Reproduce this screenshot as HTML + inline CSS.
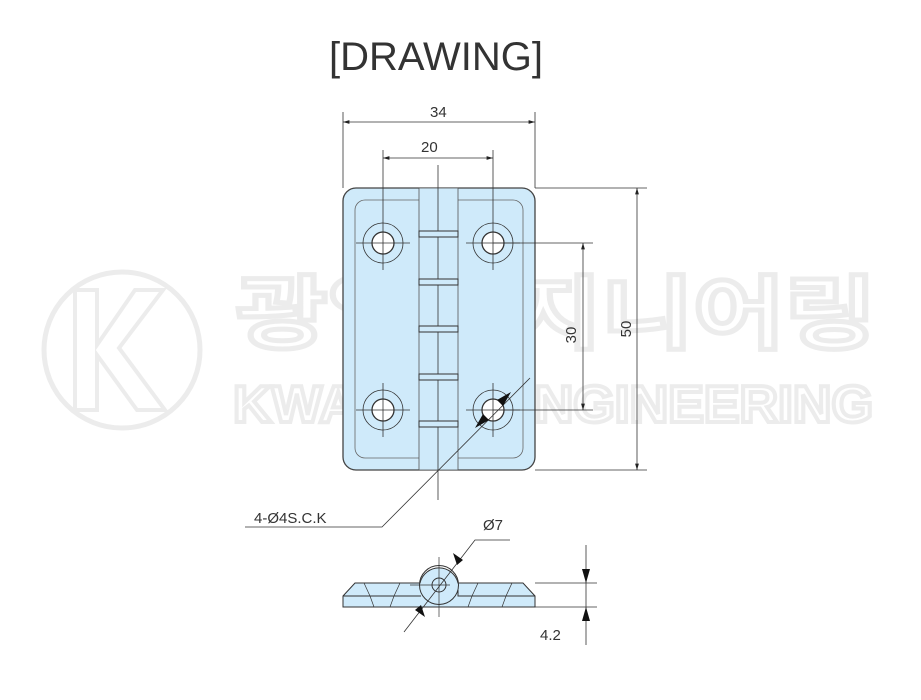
<!DOCTYPE html>
<html><head><meta charset="utf-8"><style>
html,body{margin:0;padding:0;background:#fff}
svg{display:block}
</style></head><body>
<svg width="921" height="700" viewBox="0 0 921 700" xmlns="http://www.w3.org/2000/svg" font-family="Liberation Sans, sans-serif">
<defs>
<marker id="a" viewBox="0 0 10 10" refX="10" refY="5" markerWidth="8" markerHeight="8" orient="auto-start-reverse"><path d="M0,2 L10,5 L0,8 z" fill="#222"/></marker>
</defs>
<text x="436" y="70" font-size="40" text-anchor="middle" fill="#333">[DRAWING]</text>
<g fill="none" stroke="#ececec" stroke-width="5">
<circle cx="122" cy="350" r="78"/>
<path d="M75,290 h22 v55 l38,-55 h28 l-44,58 l46,62 h-28 l-40,-55 v55 h-22 z" stroke-width="4"/>
</g>
<text x="556" y="342" font-size="80" text-anchor="middle" fill="#fff" stroke="#ececec" stroke-width="5" font-family="Noto Sans CJK KR, sans-serif" font-weight="bold" textLength="640" lengthAdjust="spacingAndGlyphs">광일엔지니어링</text>
<text x="553" y="422" font-size="52" text-anchor="middle" fill="#fff" stroke="#ececec" stroke-width="4" font-weight="bold" textLength="640" lengthAdjust="spacingAndGlyphs">KWANGIL ENGINEERING</text>

<g stroke="#333" stroke-width="1" fill="none">
<rect x="343" y="188" width="192" height="282" rx="13" fill="#cfeafa" stroke="#444" stroke-width="1.3"/>
<rect x="355" y="200" width="168" height="258" rx="10" stroke="#666" stroke-width="0.8"/>
<rect x="419" y="188" width="39" height="282" fill="#cfeafa" stroke="#555" stroke-width="0.8"/>
<line x1="438" y1="165" x2="438" y2="500" stroke-width="0.8"/>
<g fill="#cfeafa" stroke-width="1">
<rect x="419" y="231" width="39" height="6"/><rect x="419" y="279" width="39" height="6"/><rect x="419" y="326" width="39" height="6"/><rect x="419" y="374" width="39" height="6"/><rect x="419" y="421" width="39" height="6"/>
</g>
<g stroke-width="0.8">
<circle cx="383" cy="243" r="20"/><circle cx="493" cy="243" r="20"/><circle cx="383" cy="410" r="20"/><circle cx="493" cy="410" r="20"/>
</g>
<g fill="#fff" stroke-width="1.3">
<circle cx="383" cy="243" r="11"/><circle cx="493" cy="243" r="11"/><circle cx="383" cy="410" r="11"/><circle cx="493" cy="410" r="11"/>
</g>
<g stroke-width="0.8">
<path d="M356,243h54M466,243h54M356,410h54M466,410h54M383,216v54M383,383v54M493,383v54M493,216v54"/>
<path d="M343,112v76M535,112v76M383,150v66M493,150v66"/>
<line x1="343" y1="122" x2="535" y2="122" marker-start="url(#a)" marker-end="url(#a)"/>
<line x1="383" y1="158" x2="493" y2="158" marker-start="url(#a)" marker-end="url(#a)"/>
<path d="M535,188h112M535,470h112M493,243h100M493,410h100"/>
<line x1="637" y1="188" x2="637" y2="470" marker-start="url(#a)" marker-end="url(#a)"/>
<line x1="583" y1="243" x2="583" y2="410" marker-start="url(#a)" marker-end="url(#a)"/>
<path d="M530,378 L382,527 H245"/>
</g>
<path d="M511,392 l-14,8 l6,6 z M475,428 l14,-8 l-6,-6 z" fill="#111" stroke="none"/>
</g>
<g fill="#333" font-size="15">
<text x="430" y="117">34</text>
<text x="421" y="152">20</text>
<text x="576" y="335" transform="rotate(-90 576 335)" text-anchor="middle">30</text>
<text x="631" y="329" transform="rotate(-90 631 329)" text-anchor="middle">50</text>
<text x="254" y="523">4-Ø4S.C.K</text>
<text x="483" y="530">Ø7</text>
<text x="540" y="640">4.2</text>
</g>
<g stroke="#333" stroke-width="1" fill="none">
<path d="M343,596 L355,583 H420 A19.5,19.5 0 0 1 458,583 H523 L535,596 V607 H343 Z" fill="#cfeafa"/>
<circle cx="439" cy="585" r="19.5"/>
<path d="M458,590 V596 H535 M343,596 H421"/>
<path d="M364,583 l6,13 l4,11 M400,583 l-6,13 l-4,11 M478,583 l-6,13 l-4,11 M512,583 l-6,13 l-4,11" stroke-width="0.7"/>
<circle cx="439" cy="585" r="7"/>
<path d="M410,585h40M439,557v60" stroke-width="0.7"/>
<path d="M404,632 L475,540 H510" stroke-width="0.8"/>
<path d="M535,583h62M535,607h62M586,545v100" stroke-width="0.8"/>
</g>
<path d="M457,565 l-4,-12 l10,7 z M421,605 l4,12 l-10,-7 z" fill="#111"/>
<path d="M586,583 l-4,-14 h8 z M586,607 l-4,14 h8 z" fill="#111"/>
</svg>
</body></html>
